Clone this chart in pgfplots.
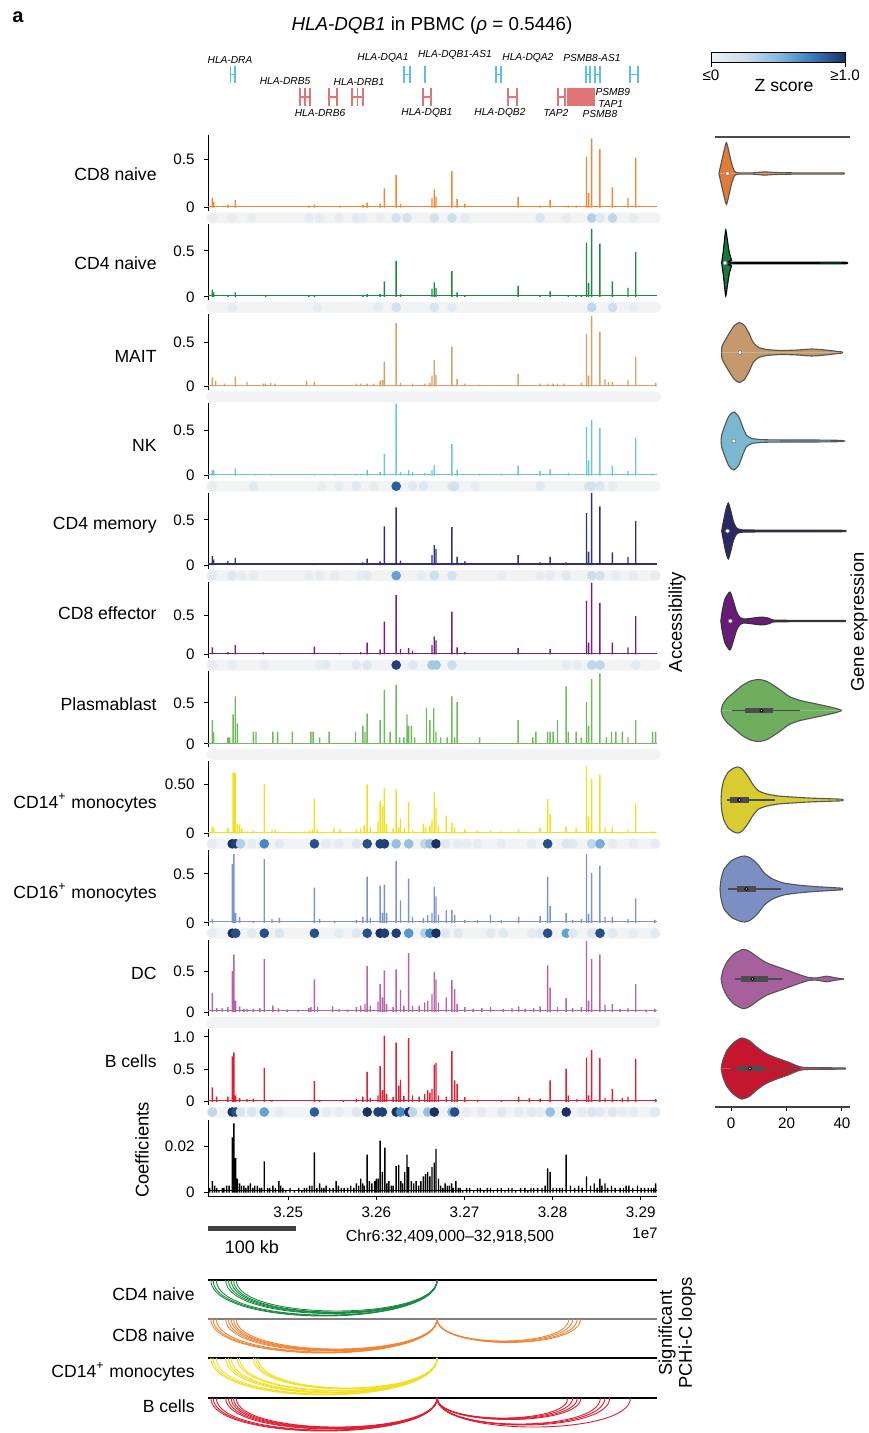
\documentclass[border=0pt]{standalone}
\usepackage{fontspec}
\setmainfont{Liberation Sans}
\usepackage{pgfplots}
\usepackage{pgfplotstable}
\pgfplotsset{compat=1.18}

\definecolor{cA}{HTML}{F28535}
\definecolor{cB}{HTML}{1B8A41}
\definecolor{cC}{HTML}{D9A065}
\definecolor{cD}{HTML}{6CC4DC}
\definecolor{cE}{HTML}{2F2F7D}
\definecolor{cF}{HTML}{741F80}
\definecolor{cG}{HTML}{70B95D}
\definecolor{cH}{HTML}{F2DF1F}
\definecolor{cI}{HTML}{7B93CF}
\definecolor{cJ}{HTML}{B463A6}
\definecolor{cK}{HTML}{E11D30}
\definecolor{vA}{HTML}{E07B39}
\definecolor{vB}{HTML}{157A3C}
\definecolor{vC}{HTML}{C49A6C}
\definecolor{vD}{HTML}{7AB8CF}
\definecolor{vE}{HTML}{2A2769}
\definecolor{vF}{HTML}{681C77}
\definecolor{vG}{HTML}{6FAE5F}
\definecolor{vH}{HTML}{D8CC30}
\definecolor{vI}{HTML}{7C8FC3}
\definecolor{vJ}{HTML}{A6619D}
\definecolor{vK}{HTML}{C4172F}
\definecolor{vedge}{HTML}{555555}
\definecolor{bandc}{HTML}{F1F3F4}
\definecolor{gblue}{HTML}{5BC0E6}
\definecolor{gred}{HTML}{E07575}

\newcommand\lbl{\fontsize{8.8}{10.5}\selectfont}
\newcommand\albl{\fontsize{9.2}{10}\selectfont}
\newcommand\tck{\fontsize{7.6}{9}\selectfont}
\newcommand\gl{\fontsize{5.1}{6}\selectfont\itshape}

\pgfkeys{/pgf/number format/assume math mode=true}
\pgfplotsset{
  colormap={zscore}{rgb255=(236,240,243) rgb255=(205,222,237) rgb255=(135,185,220) rgb255=(55,125,190) rgb255=(28,48,100)},
  every tick label/.append style={font=\tck},
  trk/.style={anchor=north west, scale only axis, width=224.5pt, height=38pt,
    xmin=409, xmax=918.5, axis x line=none, axis y line*=left,
    tick align=outside, major tick length=2pt,
    every tick/.style={black, line width=0.5pt},
    yticklabel style={xshift=-1.2pt},
    axis line style={black, line width=0.5pt}, clip=false},
  cmb/.style={ybar, bar width=0.7pt, draw=none},
  stp/.style={anchor=north west, scale only axis, width=227.5pt, height=5.5pt,
    xmin=406.73, xmax=922.9, ymin=-1, ymax=1, axis line style={draw=none},
    xtick=\empty, ytick=\empty,
    axis background/.style={fill=bandc, rounded corners=2.75pt},
    colormap name=zscore, point meta min=0, point meta max=1, clip=false},
  dots/.style={scatter, only marks, mark=*, mark size=2.2pt,
    scatter/use mapped color={draw=mapped color, fill=mapped color}, point meta=explicit},
  vax/.style={anchor=west, scale only axis, width=67.5pt, height=45pt,
    xmin=-5.8, xmax=42.9, ymin=-45, ymax=45, hide axis, clip=false},
}

\pgfplotstableread[row sep=\\]{x h\\ -4.4 0\\ -3.6 10\\ -2.6 22\\ -1.7 31\\ -0.8 22\\ 0.2 10\\ 1.2 2.5\\ 2.5 0.7\\ 8 0.7\\ 12 1.6\\ 16 1.0\\ 25 0.6\\ 40 0.6\\ 40.3 0\\}\vA
\pgfplotstableread[row sep=\\]{x h\\ -3.4 0\\ -2.8 12\\ -2.3 25\\ -1.9 33\\ -1.3 22\\ -0.6 10\\ 0.2 3\\ 1 0.8\\ 40 0.8\\ 40.3 0\\}\vB
\pgfplotstableread[row sep=\\]{x h\\ -3.4 0\\ -3.3 6\\ -2.2 12\\ -0.5 20\\ 1.2 27\\ 3 30\\ 4.8 27\\ 6.5 19\\ 8 10\\ 10 5\\ 13 3\\ 18 2\\ 24 2.5\\ 29 3.5\\ 34 2.5\\ 38 1.2\\ 40 0.6\\ 40.3 0\\}\vC
\pgfplotstableread[row sep=\\]{x h\\ -3.6 0\\ -3.4 6\\ -2.3 15\\ -0.8 25\\ 1 29\\ 2.8 24\\ 4.2 14\\ 5.5 6\\ 7.5 2.5\\ 12 1.3\\ 20 1.0\\ 30 1.0\\ 40 0.6\\ 40.3 0\\}\vD
\pgfplotstableread[row sep=\\]{x h\\ -3.4 0\\ -2.8 9\\ -1.9 21\\ -1 28\\ -0.1 20\\ 0.9 9\\ 2 3\\ 4 1.2\\ 12 0.9\\ 40 0.7\\ 40.3 0\\}\vE
\pgfplotstableread[row sep=\\]{x h\\ -3.7 0\\ -3.2 10\\ -2.2 22\\ -0.4 29\\ 0.8 20\\ 2 9\\ 3.2 3.5\\ 4.4 2\\ 7 2.6\\ 9.5 3.6\\ 11.7 3.8\\ 14 2.5\\ 16.5 0.8\\ 40 0.6\\ 40.3 0\\}\vF
\pgfplotstableread[row sep=\\]{x h\\ -3.6 0\\ -3 6\\ -1.5 12\\ 1 18\\ 4 25\\ 7 29.5\\ 10 31\\ 13 29\\ 17 22\\ 21 14\\ 25 10\\ 30 7\\ 35 4\\ 38 2\\ 40 0\\}\vG
\pgfplotstableread[row sep=\\]{x h\\ -3.6 0\\ -3.4 10\\ -2.6 20\\ -1 28\\ 1 32\\ 2.5 33\\ 4 31\\ 6 24\\ 8 15\\ 10 9\\ 13 6\\ 17 4\\ 22 3\\ 28 2\\ 35 1.3\\ 40 0.8\\ 40.3 0\\}\vH
\pgfplotstableread[row sep=\\]{x h\\ -4 0\\ -3.6 10\\ -2.5 20\\ 0 28\\ 3 32\\ 5 33\\ 7 31\\ 9.5 25\\ 12 16\\ 15 10\\ 19 6\\ 24 4\\ 30 2.5\\ 36 1.5\\ 40 0.8\\ 40.3 0\\}\vI
\pgfplotstableread[row sep=\\]{x h\\ -3.6 0\\ -3 8\\ -1.5 17\\ 1 25\\ 4.4 29.7\\ 7 27\\ 10 21\\ 13 16\\ 17 12\\ 21 8\\ 25 4\\ 28 1.5\\ 31 1.2\\ 34.5 2.8\\ 37 1.5\\ 40.7 0\\}\vJ
\pgfplotstableread[row sep=\\]{x h\\ -3.6 0\\ -3 8\\ -1.5 18\\ 1 26\\ 3.8 30.5\\ 6.5 28\\ 9 22\\ 12 16\\ 15 12\\ 18 9\\ 21 6\\ 24 2.5\\ 27 1.0\\ 40.5 0.6\\ 40.8 0\\}\vK

% violin: table, y of centre, fill, edge, extras
\newcommand\vio[5]{%
  \begin{axis}[vax, at={(357.5pt,#2)}]
  \addplot[fill=#3, draw=none, smooth, tension=0.4] table[x=x, y=h] {#1} \closedcycle;
  \addplot[fill=#3, draw=none, smooth, tension=0.4] table[x=x, y expr=-\thisrow{h}] {#1} \closedcycle;
  \addplot[draw=#4, line width=0.55pt, smooth, tension=0.4] table[x=x, y=h] {#1};
  \addplot[draw=#4, line width=0.55pt, smooth, tension=0.4] table[x=x, y expr=-\thisrow{h}] {#1};
  #5
  \end{axis}}
\newcommand\med[1]{\addplot[only marks, mark=*, mark size=1pt, mark options={fill=white, draw=black!55, line width=0.3pt}] coordinates {(#1,0)};}
\newcommand\bx[5]{% wlo whi q1 q3 med
  \addplot[black!70, line width=0.55pt] coordinates {(#1,0) (#2,0)};
  \addplot[black!70, line width=2.6pt] coordinates {(#3,0) (#4,0)};
  \addplot[only marks, mark=*, mark size=0.8pt, mark options={fill=white, draw=none}] coordinates {(#5,0)};
}
\newcommand\gB[2]{%
  \addplot[gblue, line width=0.9pt] coordinates {(#1,-66) (#1,-83)};
  \addplot[gblue, line width=0.9pt] coordinates {(#2,-66) (#2,-83)};
  \addplot[gblue, line width=0.6pt] coordinates {(#1,-74.5) (#2,-74.5)};}
\newcommand\gR[2]{%
  \addplot[gred, line width=0.9pt] coordinates {(#1,-88) (#1,-106)};
  \addplot[gred, line width=0.9pt] coordinates {(#2,-88) (#2,-106)};
  \addplot[gred, line width=0.6pt] coordinates {(#1,-97) (#2,-97)};}
\newcommand\lp[5]{\draw[#5, line width=0.45pt] (axis cs:#1,#3) .. controls (axis cs:#1,#4) and (axis cs:#2,#4) .. (axis cs:#2,#3);}
\newcommand\emptystrip{\addplot[draw=none, forget plot] coordinates {(500,0) (600,0)};}

\begin{document}
\begin{tikzpicture}
\path[use as bounding box] (0,0) rectangle (434pt,-716.5pt);

% ---------- title ----------
\node[font=\fontsize{10}{12}\selectfont\bfseries] at (9pt,-8.5pt) {a};
\node[font=\fontsize{9.4}{11}\selectfont] at (216pt,-13pt) {\textit{HLA-DQB1} in PBMC (\textit{ρ} = 0.5446)};

% ---------- genes ----------
\begin{axis}[anchor=north west, at={(104pt,-22.5pt)}, scale only axis, width=224.5pt, height=40pt,
  xmin=409, xmax=918.5, ymin=-125, ymax=-45, hide axis, clip=false]
\gB{434.5}{439.3}
\gB{631.5}{638.0}
\addplot[gblue, line width=0.7pt] coordinates {(655.2,-66) (655.2,-83)};
\gB{735.7}{741.4}
\gB{837.8}{842.3}
\gB{848.0}{853.7}
\gB{887.7}{896.8}
\gR{513.4}{524.7}
\addplot[gred, line width=0.9pt] coordinates {(519.1,-88) (519.1,-106)};
\gR{546.3}{555.3}
\gR{572.4}{584.8}
\addplot[gred, line width=0.9pt] coordinates {(578.6,-88) (578.6,-106)};
\gR{652.9}{662.0}
\gR{749.3}{759.5}
\gR{806.0}{814.0}
\addplot[fill=gred, draw=none] coordinates {(816.3,-88) (848,-88) (848,-106) (816.3,-106)} -- cycle;
\node[font=\gl] at (axis cs:434,-60) {HLA-DRA};
\node[font=\gl] at (axis cs:496.4,-81.5) {HLA-DRB5};
\node[font=\gl] at (axis cs:536.1,-113) {HLA-DRB6};
\node[font=\gl] at (axis cs:580.3,-81.5) {HLA-DRB1};
\node[font=\gl] at (axis cs:607.5,-58) {HLA-DQA1};
\node[font=\gl] at (axis cs:689.2,-55) {HLA-DQB1-AS1};
\node[font=\gl] at (axis cs:657.4,-113) {HLA-DQB1};
\node[font=\gl] at (axis cs:772.0,-58) {HLA-DQA2};
\node[font=\gl] at (axis cs:740.3,-113) {HLA-DQB2};
\node[font=\gl] at (axis cs:803.8,-113) {TAP2};
\node[font=\gl] at (axis cs:844.6,-58) {PSMB8-AS1};
\node[font=\gl] at (axis cs:868.4,-91.5) {PSMB9};
\node[font=\gl] at (axis cs:866,-103.5) {TAP1};
\node[font=\gl] at (axis cs:853.7,-114) {PSMB8};
\end{axis}

% ---------- colorbar ----------
\begin{axis}[anchor=north west, at={(355.5pt,-26.5pt)}, scale only axis, width=67pt, height=5pt,
  xmin=0, xmax=1, ymin=0, ymax=1, colormap name=zscore, point meta min=0, point meta max=1,
  xtick={0,1}, xticklabels={≤0,≥1.0}, ytick=\empty, xtick pos=bottom, tick align=outside,
  major tick length=2pt, axis on top, axis line style={line width=0.5pt},
  every tick/.style={black, line width=0.5pt}, xticklabel style={yshift=2pt}]
\addplot[surf, shader=interp, mesh/rows=2, point meta=explicit] coordinates {(0,0) [0] (1,0) [1] (0,1) [0] (1,1) [1]};
\end{axis}
\node[font=\lbl] at (392pt,-43pt) {Z score};

% ---------- tracks ----------
\begin{axis}[trk, at={(104pt,-67.5pt)}, ymin=-0.036, ymax=0.756, ytick={0,0.5}, yticklabels={0,0.5}]
\addplot[cA, line width=0.6pt] coordinates {(409,0.012) (918.5,0.012)};
\addplot[cmb, fill=cA] coordinates {(413.9,0.10) (415.4,0.06) (431.6,0.03) (439.9,0.08) (523.4,0.02) (529.7,0.03) (558.7,0.02) (584.7,0.03) (589.6,0.05) (604.3,0.04) (609.2,0.20) (622.5,0.34) (627.4,0.04) (663.2,0.10) (665.7,0.19) (667.7,0.11) (685.8,0.38) (691.7,0.09) (700.5,0.04) (760.9,0.11) (785.9,0.02) (797.2,0.08) (817.8,0.02) (826.7,0.02) (838.5,0.53) (840.9,0.15) (844.3,0.72) (853.7,0.61) (867.9,0.21) (885.6,0.10) (894.4,0.52)};
\end{axis}
\begin{axis}[stp, at={(103pt,-106.25pt)}]
\addplot[dots] coordinates {(413.9,0) [0.05] (436.5,0) [0.05] (458.6,0) [0.03] (523.4,0) [0.05] (535.6,0) [0.05] (557.7,0) [0.04] (577.3,0) [0.08] (584.7,0) [0.05] (604.3,0) [0.04] (622.5,0) [0.2] (634.8,0) [0.2] (665.7,0) [0.2] (685.8,0) [0.25] (700.5,0) [0.05] (785.9,0) [0.15] (815.4,0) [0.05] (844.3,0) [0.35] (853.7,0) [0.1] (867.9,0) [0.3] (891.5,0) [0.05]};
\end{axis}

\begin{axis}[trk, at={(104pt,-112.2pt)}, ymin=-0.037, ymax=0.789, ytick={0,0.5}, yticklabels={0,0.5}]
\addplot[cB, line width=0.6pt] coordinates {(409,0.012) (918.5,0.012)};
\addplot[cmb, fill=cB] coordinates {(413.9,0.08) (415.4,0.05) (431.6,0.02) (439.9,0.05) (474.3,0.02) (523.4,0.02) (529.7,0.02) (584.7,0.02) (589.6,0.03) (604.3,0.03) (609.2,0.17) (622.5,0.39) (627.4,0.03) (663.2,0.09) (665.7,0.16) (667.7,0.10) (685.8,0.28) (691.7,0.05) (700.5,0.02) (760.9,0.12) (785.9,0.02) (797.2,0.06) (817.8,0.02) (826.7,0.02) (832.6,0.02) (838.5,0.59) (840.9,0.15) (844.3,0.74) (853.7,0.58) (867.9,0.17) (885.6,0.10) (894.4,0.49)};
\end{axis}
\begin{axis}[stp, at={(103pt,-150.95pt)}]
\addplot[dots] coordinates {(436.5,0) [0.05] (533.2,0) [0.04] (601.9,0) [0.05] (622.5,0) [0.2] (665.7,0) [0.15] (685.8,0) [0.08] (844.3,0) [0.3] (867.9,0) [0.25] (891.5,0) [0.05]};
\end{axis}

\begin{axis}[trk, at={(104pt,-156.9pt)}, ymin=-0.04, ymax=0.824, ytick={0,0.5}, yticklabels={0,0.5}]
\addplot[cC, line width=0.6pt] coordinates {(409,0.012) (918.5,0.012)};
\addplot[cmb, fill=cC] coordinates {(413.9,0.10) (417.8,0.06) (427.7,0.03) (439.9,0.11) (453.2,0.05) (471.8,0.03) (474.3,0.03) (480.2,0.04) (485.1,0.03) (520.9,0.06) (529.7,0.05) (577.3,0.03) (582.3,0.03) (589.6,0.03) (597.0,0.03) (604.3,0.06) (606.8,0.07) (609.2,0.28) (622.5,0.72) (627.4,0.04) (641.1,0.03) (654.9,0.03) (660.8,0.04) (663.2,0.12) (665.7,0.30) (667.7,0.13) (685.8,0.45) (691.7,0.08) (700.5,0.03) (717.2,0.02) (760.9,0.14) (785.9,0.03) (794.3,0.03) (800.7,0.03) (805.6,0.03) (812.9,0.03) (832.6,0.04) (838.5,0.60) (840.9,0.12) (844.3,0.80) (853.7,0.62) (859.5,0.08) (863.5,0.05) (867.9,0.05) (885.6,0.07) (894.4,0.33) (917.0,0.04)};
\end{axis}
\begin{axis}[stp, at={(103pt,-195.65pt)}]
\emptystrip
\end{axis}

\begin{axis}[trk, at={(104pt,-201.6pt)}, ymin=-0.04, ymax=0.804, ytick={0,0.5}, yticklabels={0,0.5}]
\addplot[cD, line width=0.6pt] coordinates {(409,0.012) (918.5,0.012)};
\addplot[cmb, fill=cD] coordinates {(413.9,0.06) (415.4,0.06) (439.9,0.08) (462.0,0.02) (480.2,0.02) (529.7,0.02) (552.8,0.02) (577.3,0.02) (589.6,0.06) (604.3,0.04) (609.2,0.24) (622.5,0.80) (627.4,0.04) (636.7,0.06) (641.1,0.04) (654.9,0.03) (663.2,0.06) (665.7,0.12) (685.8,0.35) (691.7,0.06) (717.2,0.02) (741.8,0.02) (760.9,0.11) (785.9,0.05) (797.2,0.07) (817.8,0.03) (838.5,0.54) (840.9,0.17) (844.3,0.62) (853.7,0.53) (867.9,0.11) (885.6,0.05) (894.4,0.42) (913.5,0.02)};
\end{axis}
\begin{axis}[stp, at={(103pt,-240.35pt)}]
\addplot[dots] coordinates {(413.9,0) [0.04] (460.5,0) [0.08] (538.1,0) [0.04] (557.7,0) [0.06] (577.3,0) [0.1] (597.0,0) [0.06] (622.5,0) [0.85] (641.1,0) [0.1] (653.4,0) [0.12] (685.8,0) [0.15] (688.8,0) [0.2] (712.3,0) [0.06] (785.9,0) [0.1] (840.9,0) [0.15] (844.3,0) [0.2] (853.7,0) [0.15] (867.9,0) [0.05]};
\end{axis}

\begin{axis}[trk, at={(104pt,-246.3pt)}, ymin=-0.04, ymax=0.804, ytick={0,0.5}, yticklabels={0,0.5}]
\addplot[cE, line width=0.6pt] coordinates {(409,0.012) (918.5,0.012)};
\addplot[cmb, fill=cE] coordinates {(413.9,0.10) (415.4,0.06) (431.6,0.04) (439.9,0.08) (529.7,0.02) (584.7,0.03) (589.6,0.07) (604.3,0.04) (609.2,0.43) (622.5,0.64) (627.4,0.05) (663.2,0.11) (665.7,0.22) (667.7,0.18) (685.8,0.42) (691.7,0.09) (700.5,0.04) (760.9,0.11) (785.9,0.03) (797.2,0.09) (815.4,0.03) (838.5,0.58) (840.9,0.15) (844.3,0.80) (853.7,0.65) (867.9,0.14) (885.6,0.09) (894.4,0.49)};
\end{axis}
\begin{axis}[stp, at={(103pt,-285.05pt)}]
\addplot[dots] coordinates {(413.9,0) [0.08] (436.5,0) [0.1] (447.3,0) [0.05] (460.5,0) [0.05] (523.4,0) [0.04] (535.6,0) [0.05] (552.8,0) [0.05] (582.3,0) [0.06] (589.6,0) [0.08] (622.5,0) [0.6] (651.0,0) [0.06] (665.7,0) [0.25] (685.8,0) [0.2] (741.8,0) [0.04] (785.9,0) [0.05] (797.2,0) [0.05] (815.4,0) [0.1] (844.3,0) [0.25] (853.7,0) [0.2] (871.8,0) [0.06] (891.5,0) [0.05] (916.0,0) [0.06]};
\end{axis}

\begin{axis}[trk, at={(104pt,-291pt)}, ymin=-0.046, ymax=0.928, ytick={0,0.5}, yticklabels={0,0.5}]
\addplot[cF, line width=0.6pt] coordinates {(409,0.012) (918.5,0.012)};
\addplot[cmb, fill=cF] coordinates {(413.9,0.09) (431.6,0.03) (439.9,0.12) (471.8,0.03) (529.7,0.10) (558.7,0.02) (582.3,0.03) (589.6,0.15) (604.3,0.06) (609.2,0.42) (622.5,0.76) (627.4,0.07) (636.7,0.08) (641.1,0.05) (663.2,0.12) (665.7,0.23) (667.7,0.18) (685.8,0.55) (691.7,0.09) (700.5,0.03) (760.9,0.08) (797.2,0.07) (838.5,0.69) (840.9,0.15) (844.3,0.92) (853.7,0.66) (867.9,0.15) (885.6,0.09) (894.4,0.49)};
\end{axis}
\begin{axis}[stp, at={(103pt,-329.75pt)}]
\addplot[dots] coordinates {(413.9,0) [0.05] (436.5,0) [0.06] (472.8,0) [0.05] (535.6,0) [0.06] (543.0,0) [0.08] (577.3,0) [0.08] (589.6,0) [0.12] (622.5,0) [0.95] (641.1,0) [0.12] (663.2,0) [0.4] (667.7,0) [0.4] (685.8,0) [0.25] (815.4,0) [0.05] (827.7,0) [0.06] (844.3,0) [0.3] (853.7,0) [0.3] (894.4,0) [0.08]};
\end{axis}

\begin{axis}[trk, at={(104pt,-335.7pt)}, ymin=-0.043, ymax=0.884, ytick={0,0.5}, yticklabels={0,0.5}]
\addplot[cG, line width=0.6pt] coordinates {(409,0) (918.5,0)};
\addplot[cmb, fill=cG] coordinates {(413.9,0.29) (415.4,0.14) (431.6,0.08) (433.5,0.08) (437.5,0.36) (439.9,0.58) (442.4,0.25) (460.5,0.15) (463.5,0.15) (482.6,0.15) (488.0,0.15) (504.7,0.15) (525.8,0.15) (528.3,0.15) (535.6,0.08) (546.4,0.15) (576.4,0.15) (584.7,0.22) (587.2,0.15) (589.6,0.37) (604.3,0.29) (609.2,0.66) (615.6,0.15) (622.5,0.72) (626.4,0.08) (631.3,0.08) (634.8,0.36) (636.7,0.22) (639.7,0.22) (643.6,0.08) (656.9,0.44) (660.8,0.29) (665.2,0.44) (667.7,0.15) (673.1,0.08) (680.4,0.08) (685.8,0.58) (688.8,0.08) (691.7,0.51) (717.2,0.08) (760.9,0.29) (777.6,0.08) (781.0,0.15) (794.3,0.15) (797.2,0.15) (800.7,0.15) (805.6,0.29) (815.4,0.70) (817.8,0.15) (826.7,0.15) (832.6,0.08) (838.5,0.51) (840.9,0.22) (844.3,0.79) (853.7,0.86) (861.0,0.08) (866.9,0.15) (871.8,0.15) (879.2,0.15) (885.6,0.08) (894.4,0.29) (913.5,0.15) (917.0,0.15)};
\end{axis}
\begin{axis}[stp, at={(103pt,-374.45pt)}]
\emptystrip
\end{axis}

\begin{axis}[trk, at={(104pt,-380.4pt)}, ymin=-0.035, ymax=0.741, ytick={0,0.5}, yticklabels={0,0.50}]
\addplot[cH, line width=0.6pt] coordinates {(409,0.012) (918.5,0.012)};
\addplot[cmb, fill=cH] coordinates {(413.9,0.07) (415.4,0.05) (431.6,0.06) (437.5,0.62) (438.4,0.62) (439.9,0.62) (442.4,0.10) (444.8,0.09) (447.3,0.05) (453.2,0.02) (460.5,0.03) (472.8,0.50) (481.6,0.03) (485.1,0.03) (518.4,0.02) (524.3,0.03) (527.3,0.04) (529.7,0.35) (533.2,0.04) (551.8,0.05) (558.7,0.04) (577.3,0.04) (582.3,0.05) (586.2,0.08) (589.6,0.50) (593.1,0.06) (601.9,0.12) (604.3,0.33) (606.8,0.28) (609.2,0.46) (611.7,0.10) (619.1,0.05) (622.5,0.45) (625.4,0.06) (627.4,0.15) (632.3,0.06) (636.7,0.32) (641.1,0.04) (653.4,0.10) (655.9,0.06) (660.8,0.08) (663.2,0.14) (665.7,0.42) (667.7,0.26) (670.6,0.08) (679.4,0.18) (685.8,0.11) (688.8,0.06) (700.5,0.04) (714.8,0.03) (729.5,0.03) (741.8,0.02) (761.4,0.04) (785.9,0.06) (794.3,0.35) (797.2,0.20) (815.4,0.07) (826.7,0.05) (838.5,0.69) (840.9,0.17) (844.3,0.56) (853.7,0.60) (859.5,0.06) (867.9,0.06) (885.6,0.04) (894.4,0.30) (913.5,0.02)};
\end{axis}
\begin{axis}[stp, at={(103pt,-419.15pt)}]
\addplot[dots] coordinates {(413.9,0) [0.05] (436.5,0) [1.0] (440.4,0) [0.95] (445.8,0) [0.35] (458.6,0) [0.06] (472.8,0) [0.7] (490.0,0) [0.08] (529.7,0) [0.9] (543.0,0) [0.05] (557.7,0) [0.06] (577.3,0) [0.12] (589.6,0) [0.9] (604.3,0) [0.95] (609.2,0) [0.95] (622.5,0) [0.45] (636.7,0) [0.45] (654.9,0) [0.3] (660.8,0) [0.45] (667.7,0) [1.0] (678.0,0) [0.1] (692.7,0) [0.06] (702.5,0) [0.05] (714.8,0) [0.04] (741.8,0) [0.05] (776.1,0) [0.06] (794.3,0) [0.9] (815.4,0) [0.15] (822.7,0) [0.1] (844.3,0) [0.3] (853.7,0) [0.55] (867.9,0) [0.06] (891.5,0) [0.05] (916.0,0) [0.06]};
\end{axis}

\begin{axis}[trk, at={(104pt,-425.1pt)}, ymin=-0.035, ymax=0.741, ytick={0,0.5}, yticklabels={0,0.5}]
\addplot[cI, line width=0.6pt] coordinates {(409,0.012) (918.5,0.012)};
\addplot[cmb, fill=cI] coordinates {(413.9,0.04) (436.5,0.60) (438.4,0.70) (440.4,0.10) (444.8,0.06) (460.5,0.02) (472.8,0.65) (481.6,0.04) (490.0,0.05) (529.7,0.36) (535.6,0.04) (552.8,0.02) (577.3,0.03) (584.7,0.06) (589.6,0.47) (593.1,0.05) (604.3,0.38) (606.8,0.10) (609.2,0.39) (611.7,0.10) (622.5,0.63) (627.4,0.23) (636.7,0.45) (641.1,0.06) (653.4,0.05) (658.3,0.08) (663.2,0.10) (665.7,0.37) (667.7,0.27) (670.6,0.08) (679.4,0.13) (685.8,0.13) (688.8,0.08) (700.5,0.03) (714.8,0.03) (729.5,0.08) (741.8,0.03) (761.4,0.06) (785.9,0.07) (794.3,0.47) (797.2,0.17) (815.4,0.10) (822.7,0.03) (832.6,0.04) (838.5,0.70) (840.9,0.09) (844.3,0.51) (853.7,0.58) (859.5,0.06) (867.9,0.06) (885.6,0.04) (894.4,0.25) (916.0,0.03)};
\end{axis}
\begin{axis}[stp, at={(103pt,-463.85pt)}]
\addplot[dots] coordinates {(413.9,0) [0.05] (436.5,0) [1.0] (440.4,0) [0.9] (458.6,0) [0.1] (472.8,0) [0.9] (490.0,0) [0.15] (529.7,0) [0.9] (557.7,0) [0.06] (577.3,0) [0.12] (589.6,0) [0.9] (604.3,0) [1.0] (609.2,0) [0.95] (622.5,0) [0.95] (636.7,0) [0.65] (654.9,0) [0.35] (660.8,0) [0.7] (667.7,0) [1.0] (678.0,0) [0.12] (692.7,0) [0.12] (729.5,0) [0.08] (744.2,0) [0.1] (776.1,0) [0.05] (785.9,0) [0.12] (794.3,0) [0.9] (815.4,0) [0.6] (822.7,0) [0.1] (844.3,0) [0.12] (853.7,0) [0.9] (867.9,0) [0.08] (891.5,0) [0.06] (916.0,0) [0.08]};
\end{axis}

\begin{axis}[trk, at={(104pt,-469.8pt)}, ymin=-0.043, ymax=0.884, ytick={0,0.5}, yticklabels={0,0.5}]
\addplot[cJ, line width=0.6pt] coordinates {(409,0.015) (918.5,0.015)};
\addplot[cmb, fill=cJ] coordinates {(413.9,0.23) (418.8,0.05) (425.2,0.05) (431.6,0.06) (436.5,0.50) (438.4,0.70) (440.4,0.14) (444.8,0.07) (449.7,0.04) (453.2,0.04) (460.5,0.04) (467.9,0.05) (472.8,0.65) (482.6,0.08) (489.0,0.05) (498.8,0.03) (511.1,0.03) (523.4,0.05) (525.8,0.06) (529.7,0.40) (533.2,0.06) (550.4,0.07) (557.7,0.04) (567.5,0.03) (577.3,0.06) (582.3,0.08) (587.2,0.10) (589.6,0.56) (593.1,0.08) (601.9,0.13) (604.3,0.34) (606.8,0.18) (609.2,0.51) (611.7,0.10) (619.1,0.06) (622.5,0.52) (627.4,0.27) (631.3,0.08) (636.7,0.72) (641.1,0.08) (648.5,0.08) (654.9,0.12) (658.3,0.14) (663.2,0.22) (665.7,0.49) (667.7,0.40) (670.6,0.12) (679.4,0.18) (685.8,0.39) (688.8,0.28) (691.7,0.10) (700.5,0.06) (709.9,0.04) (719.7,0.05) (729.5,0.06) (744.2,0.04) (754.0,0.05) (761.4,0.07) (768.8,0.04) (778.6,0.05) (785.9,0.07) (794.3,0.57) (797.2,0.30) (805.6,0.06) (815.4,0.17) (822.7,0.05) (832.6,0.06) (838.5,0.87) (840.9,0.14) (844.3,0.65) (853.7,0.70) (859.5,0.09) (867.9,0.10) (876.7,0.04) (885.6,0.05) (894.4,0.34) (906.2,0.03) (916.0,0.04)};
\end{axis}
\begin{axis}[stp, at={(103pt,-508.55pt)}]
\emptystrip
\end{axis}

\begin{axis}[trk, at={(104pt,-514.5pt)}, ymin=-0.05, ymax=1.12, ytick={0,0.5,1}, yticklabels={0,0.5,1.0}]
\addplot[cK, line width=0.6pt] coordinates {(409,0.015) (918.5,0.015)};
\addplot[cmb, fill=cK] coordinates {(413.9,0.22) (418.8,0.08) (431.6,0.08) (436.5,0.70) (438.4,0.76) (440.4,0.10) (444.8,0.06) (453.2,0.04) (460.5,0.05) (472.8,0.52) (481.6,0.03) (529.7,0.32) (535.6,0.03) (562.6,0.03) (577.3,0.05) (584.7,0.08) (589.6,0.46) (593.1,0.06) (601.9,0.10) (604.3,0.55) (606.8,0.18) (609.2,1.02) (611.7,0.12) (619.1,0.07) (622.5,0.91) (625.4,0.25) (627.4,0.34) (631.3,0.09) (636.7,0.98) (641.1,0.10) (648.5,0.08) (654.9,0.12) (658.3,0.18) (660.8,0.14) (663.2,0.20) (665.7,0.57) (667.7,0.60) (670.6,0.10) (679.4,0.08) (685.8,0.78) (688.8,0.33) (691.7,0.27) (700.5,0.07) (714.8,0.03) (741.8,0.03) (761.4,0.08) (773.7,0.06) (785.9,0.05) (797.2,0.33) (815.4,0.51) (817.8,0.10) (827.7,0.04) (838.5,0.68) (840.9,0.10) (844.3,0.80) (853.7,0.67) (859.5,0.06) (867.9,0.20) (879.2,0.06) (885.6,0.08) (894.4,0.66) (917.0,0.04)};
\end{axis}
\begin{axis}[stp, at={(103pt,-553.25pt)}]
\addplot[dots] coordinates {(413.9,0) [0.3] (436.5,0) [1.0] (440.4,0) [0.9] (445.8,0) [0.15] (458.6,0) [0.15] (472.8,0) [0.6] (490.0,0) [0.05] (529.7,0) [0.85] (543.0,0) [0.05] (557.7,0) [0.05] (577.3,0) [0.12] (589.6,0) [1.0] (601.9,0) [0.95] (606.8,0) [0.95] (622.5,0) [1.0] (627.4,0) [0.7] (636.7,0) [1.0] (641.1,0) [0.3] (658.3,0) [0.45] (665.7,0) [1.0] (685.8,0) [0.5] (688.8,0) [0.9] (702.5,0) [0.05] (719.7,0) [0.05] (741.8,0) [0.1] (761.4,0) [0.06] (776.1,0) [0.08] (785.9,0) [0.06] (797.2,0) [0.45] (815.4,0) [1.0] (832.6,0) [0.06] (844.3,0) [0.15] (853.7,0) [0.1] (867.9,0) [0.12] (879.2,0) [0.06] (891.5,0) [0.05] (916.0,0) [0.1]};
\end{axis}

% ---------- coefficients ----------
\begin{axis}[anchor=north west, at={(104pt,-560pt)}, scale only axis, width=224.5pt, height=38pt,
  xmin=409, xmax=918.5, ymin=-0.0015, ymax=0.0315,
  axis x line*=bottom, axis y line*=left, tick align=outside, major tick length=2pt,
  every tick/.style={black, line width=0.5pt}, axis line style={black, line width=0.5pt},
  yticklabel style={xshift=-1.2pt},
  xtick={500,600,700,800,900}, xticklabels={3.25,3.26,3.27,3.28,3.29},
  ytick={0,0.02}, yticklabels={0,0.02}, scaled ticks=false, clip=false]
\addplot[black, line width=0.7pt] coordinates {(409,0.001) (918.5,0.001)};
\addplot[cmb, fill=black] coordinates {(413.9,0.005) (418.8,0.002) (425.2,0.002) (430.1,0.003) (436.5,0.024) (438.4,0.030) (440.4,0.015) (442.4,0.006) (444.8,0.004) (449.7,0.003) (457.1,0.004) (462.0,0.003) (467.9,0.002) (472.8,0.0135) (476.7,0.002) (482.6,0.003) (489.5,0.005) (493.9,0.002) (518.4,0.002) (524.3,0.003) (529.7,0.0175) (535.6,0.004) (540.5,0.002) (554.3,0.005) (560.2,0.002) (567.5,0.002) (577.3,0.004) (582.3,0.006) (586.2,0.003) (589.6,0.0165) (592.1,0.005) (598.0,0.005) (599.9,0.006) (604.3,0.0225) (606.8,0.009) (609.7,0.0195) (614.2,0.005) (619.1,0.003) (622.5,0.0115) (625.4,0.012) (627.9,0.005) (632.3,0.009) (634.8,0.0165) (636.7,0.011) (639.7,0.005) (645.1,0.005) (653.4,0.007) (655.9,0.008) (658.3,0.009) (660.8,0.007) (663.2,0.011) (665.7,0.013) (667.7,0.019) (670.6,0.006) (678.0,0.004) (682.9,0.003) (690.2,0.005) (695.1,0.002) (702.5,0.002) (714.8,0.002) (729.5,0.002) (741.8,0.002) (754.0,0.002) (763.8,0.002) (778.6,0.002) (794.3,0.0105) (797.2,0.009) (808.0,0.002) (815.4,0.0165) (820.3,0.003) (838.5,0.007) (847.3,0.004) (853.7,0.006) (859.5,0.004) (866.9,0.003) (876.7,0.002) (886.5,0.003) (896.4,0.003) (908.6,0.002) (917.0,0.004)};
\addplot[cmb, fill=black] coordinates {(411.0,0.002) (416.5,0.003) (421.5,0.001) (427.0,0.002) (433.0,0.003) (447.0,0.003) (452.0,0.002) (454.5,0.003) (460.0,0.002) (465.0,0.003) (470.0,0.002) (479.0,0.002) (485.5,0.002) (491.5,0.003) (497.0,0.001) (502.0,0.002) (507.0,0.001) (512.0,0.002) (515.5,0.001) (521.0,0.002) (527.0,0.003) (532.5,0.002) (538.0,0.002) (543.0,0.003) (547.0,0.002) (551.0,0.002) (557.0,0.003) (563.5,0.002) (571.0,0.003) (574.5,0.002) (580.0,0.003) (584.5,0.004) (595.0,0.004) (602.0,0.006) (612.0,0.004) (617.0,0.003) (630.0,0.004) (642.5,0.004) (648.0,0.003) (650.5,0.005) (673.0,0.003) (675.5,0.002) (680.5,0.003) (685.5,0.004) (687.5,0.002) (693.0,0.002) (698.0,0.001) (706.0,0.002) (710.5,0.001) (718.0,0.002) (722.0,0.001) (726.0,0.002) (733.0,0.001) (737.5,0.002) (746.0,0.001) (750.0,0.002) (758.0,0.001) (768.5,0.002) (772.0,0.001) (775.5,0.002) (783.0,0.002) (788.0,0.002) (791.5,0.003) (800.5,0.002) (804.5,0.002) (811.0,0.002) (825.0,0.002) (829.5,0.003) (833.5,0.002) (843.0,0.003) (850.5,0.002) (856.0,0.003) (862.5,0.002) (871.0,0.002) (880.5,0.002) (883.5,0.003) (891.0,0.002) (900.5,0.002) (904.5,0.002) (912.0,0.002) (915.0,0.002)};
\addplot[black!75, line width=2.5pt] coordinates {(409,-0.0154) (509,-0.0154)};
\end{axis}
\node[font=\tck] at (322.5pt,-616.5pt) {1e7};
\node[font=\fontsize{8}{9.6}\selectfont] at (225pt,-618.5pt) {Chr6:32,409,000–32,918,500};
\node[font=\fontsize{9}{10.8}\selectfont] at (126pt,-623.5pt) {100 kb};
\node[font=\albl, rotate=90] at (71pt,-575pt) {Coefficients};

% ---------- violins ----------
\begin{axis}[anchor=north west, at={(357.5pt,-68.5pt)}, scale only axis, width=67.5pt, height=485pt,
  xmin=-5.8, xmax=42.9, ymin=-1107, ymax=-137, axis x line*=bottom, axis y line=none,
  xtick={0,20,40}, xticklabels={0,20,40}, tick align=outside, major tick length=2pt,
  every tick/.style={black, line width=0.5pt}, axis line style={black!75, line width=0.55pt}, clip=false]
\addplot[black!70, line width=0.6pt] coordinates {(-5.8,-137) (42.9,-137)};
\end{axis}
\vio{\vA}{-86.75pt}{vA}{vedge}{\med{-1.3}}
\vio{\vB}{-131.5pt}{vB}{black}{\med{-2.2}}
\vio{\vC}{-176.25pt}{vC}{vedge}{\med{3.2}}
\vio{\vD}{-220.5pt}{vD}{vedge}{\med{1}}
\vio{\vE}{-265.5pt}{vE}{black!80}{\med{-1.3}}
\vio{\vF}{-310.5pt}{vF}{black!80}{\med{-0.3}}
\vio{\vG}{-355.25pt}{vG}{vedge}{\bx{0.5}{25}{5}{15}{11}}
\vio{\vH}{-400pt}{vH}{vedge}{\bx{-1.5}{16}{-0.5}{6.5}{3}}
\vio{\vI}{-444.5pt}{vI}{vedge}{\bx{-1}{18}{2}{9}{5.5}}
\vio{\vJ}{-489.5pt}{vJ}{vedge}{\bx{1.4}{18.3}{3.5}{13.2}{7.7}}
\vio{\vK}{-534.25pt}{vK}{vedge}{\bx{-0.4}{25}{2.4}{11.9}{6.8}}

% ---------- labels ----------
\begin{scope}[every node/.style={font=\lbl, anchor=east, inner sep=0pt}]
\node at (78.5pt,-87pt) {CD8 naive};
\node at (78.5pt,-131.5pt) {CD4 naive};
\node at (78.5pt,-178pt) {MAIT};
\node at (78.5pt,-222.5pt) {NK};
\node at (78.5pt,-262.5pt) {CD4 memory};
\node at (78.5pt,-306.5pt) {CD8 effector};
\node at (78.5pt,-352pt) {Plasmablast};
\node at (78.5pt,-401.5pt) {CD14\textsuperscript{+} monocytes};
\node at (78.5pt,-446.5pt) {CD16\textsuperscript{+} monocytes};
\node at (78.5pt,-486.5pt) {DC};
\node at (78.5pt,-530.5pt) {B cells};
\node at (97.5pt,-647pt) {CD4 naive};
\node at (97.5pt,-667.5pt) {CD8 naive};
\node at (97.5pt,-686pt) {CD14\textsuperscript{+} monocytes};
\node at (97.5pt,-703pt) {B cells};
\end{scope}
\node[font=\albl, rotate=90] at (338.5pt,-311pt) {Accessibility};
\node[font=\albl, rotate=90] at (429.5pt,-311pt) {Gene expression};

% ---------- loops ----------
\begin{axis}[anchor=north west, at={(104pt,-635pt)}, scale only axis, width=224.5pt, height=81.5pt,
  xmin=409, xmax=918.5, ymin=-1433, ymax=-1270, hide axis, clip=false]
\addplot[black, line width=0.6pt] coordinates {(409,-1280) (918.5,-1280)};
\addplot[black!50, line width=1.1pt] coordinates {(409,-1319) (918.5,-1319)};
\addplot[black, line width=0.6pt] coordinates {(409,-1358) (918.5,-1358)};
\addplot[black, line width=0.6pt] coordinates {(409,-1398) (918.5,-1398)};
\lp{412.2}{669}{-1280}{-1328}{cB}
\lp{414.8}{669}{-1280}{-1327.3}{cB}
\lp{418.4}{669}{-1280}{-1326.7}{cB}
\lp{429.0}{669}{-1280}{-1324.7}{cB}
\lp{432.1}{669}{-1280}{-1324}{cB}
\lp{435.3}{669}{-1280}{-1323.3}{cB}
\lp{437.9}{669}{-1280}{-1322.7}{cB}
\lp{441.0}{669}{-1280}{-1321.3}{cB}
\lp{412.2}{669}{-1319}{-1364.3}{cA}
\lp{414.8}{669}{-1319}{-1363.7}{cA}
\lp{418.4}{669}{-1319}{-1363}{cA}
\lp{429.0}{669}{-1319}{-1361.7}{cA}
\lp{432.1}{669}{-1319}{-1361}{cA}
\lp{435.3}{669}{-1319}{-1360.3}{cA}
\lp{437.9}{669}{-1319}{-1359.7}{cA}
\lp{441.0}{669}{-1319}{-1359}{cA}
\lp{669}{818.5}{-1319}{-1348.3}{cA}
\lp{669}{822.8}{-1319}{-1349}{cA}
\lp{669}{828.0}{-1319}{-1349.7}{cA}
\lp{669}{831.7}{-1319}{-1350.3}{cA}
\lp{412.2}{669}{-1358}{-1407.3}{cH}
\lp{414.8}{669}{-1358}{-1406.7}{cH}
\lp{418.4}{669}{-1358}{-1406}{cH}
\lp{429.0}{669}{-1358}{-1404.7}{cH}
\lp{432.1}{669}{-1358}{-1404}{cH}
\lp{435.2}{669}{-1358}{-1403.3}{cH}
\lp{442.1}{669}{-1358}{-1402}{cH}
\lp{444.7}{669}{-1358}{-1401.3}{cH}
\lp{460.5}{669}{-1358}{-1399.3}{cH}
\lp{463.1}{669}{-1358}{-1398.7}{cH}
\lp{465.7}{669}{-1358}{-1398}{cH}
\lp{412.2}{669}{-1398}{-1442}{cK}
\lp{414.8}{669}{-1398}{-1441.3}{cK}
\lp{418.4}{669}{-1398}{-1440.7}{cK}
\lp{429.0}{669}{-1398}{-1439.3}{cK}
\lp{432.1}{669}{-1398}{-1438.7}{cK}
\lp{435.3}{669}{-1398}{-1438}{cK}
\lp{437.9}{669}{-1398}{-1437.3}{cK}
\lp{441.0}{669}{-1398}{-1436.7}{cK}
\lp{669}{817.5}{-1398}{-1424.7}{cK}
\lp{669}{822.8}{-1398}{-1425.3}{cK}
\lp{669}{828.0}{-1398}{-1426}{cK}
\lp{669}{832.2}{-1398}{-1426.7}{cK}
\lp{669}{854.2}{-1398}{-1432.7}{cK}
\lp{669}{859.4}{-1398}{-1433.3}{cK}
\lp{669}{864.8}{-1398}{-1434}{cK}
\lp{669}{888.4}{-1398}{-1436.7}{cK}
\end{axis}
\node[font=\albl, rotate=90, align=center] at (338.5pt,-666.5pt) {Significant\\PCHi-C loops};
\end{tikzpicture}
\end{document}
